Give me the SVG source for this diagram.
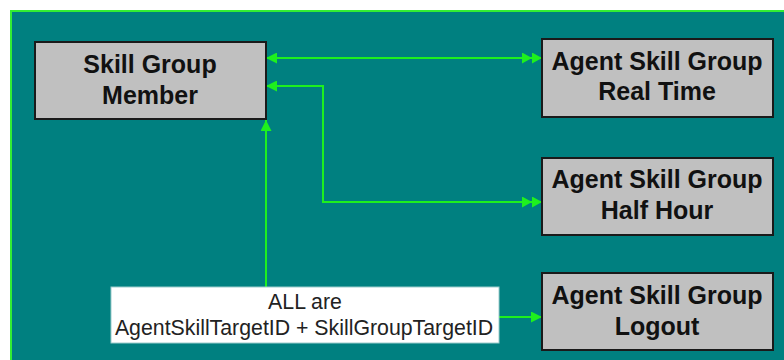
<svg xmlns="http://www.w3.org/2000/svg" width="784" height="360" viewBox="0 0 784 360">
<style>
.node rect{fill:#c0c0c0;stroke:#1a1a1a;stroke-width:2}
.node text{font-family:"Liberation Sans",Arial,sans-serif;font-weight:bold;font-size:25px;fill:#111;text-anchor:middle}
.conn{fill:none;stroke:#1ef01e;stroke-width:2}
.lbl text{font-family:"Liberation Sans",Arial,sans-serif;font-size:21.3px;fill:#222;text-anchor:middle}
</style>
<defs>
<marker id="a1" markerUnits="userSpaceOnUse" markerWidth="11" markerHeight="11" refX="11" refY="5.5" orient="auto-start-reverse">
<path d="M0,0 L11,5.5 L0,11 z" fill="#1ef01e"/>
</marker>
<marker id="a2" markerUnits="userSpaceOnUse" markerWidth="20" markerHeight="11" refX="20" refY="5.5" orient="auto">
<path d="M0,0 L10,5.5 L0,11 z M10,0 L20,5.5 L10,11 z" fill="#1ef01e"/>
</marker>
</defs>
<rect x="0" y="0" width="784" height="360" fill="#ffffff"/>
<rect x="11" y="11" width="820" height="400" fill="#008080" stroke="#33ee33" stroke-width="2"/>
<g id="connectors">
<path class="conn" d="M266,58 H542" marker-start="url(#a1)" marker-end="url(#a2)"/>
<path class="conn" d="M266,86 H323 V202 H542" marker-start="url(#a1)" marker-end="url(#a2)"/>
<path class="conn" d="M266,287 V120" marker-end="url(#a1)"/>
<path class="conn" d="M499,317 H542" marker-end="url(#a1)"/>
</g>
<g id="skill-group-member" class="node">
<rect x="35" y="42" width="231" height="77"/>
<text x="150" y="73">Skill Group</text>
<text x="150" y="104">Member</text>
</g>
<g id="agent-skill-group-real-time" class="node">
<rect x="542" y="39" width="231" height="78"/>
<text x="657" y="70">Agent Skill Group</text>
<text x="657" y="100">Real Time</text>
</g>
<g id="agent-skill-group-half-hour" class="node">
<rect x="542" y="158" width="231" height="77"/>
<text x="657" y="188">Agent Skill Group</text>
<text x="657" y="219">Half Hour</text>
</g>
<g id="agent-skill-group-logout" class="node">
<rect x="542" y="273" width="231" height="77"/>
<text x="657" y="304">Agent Skill Group</text>
<text x="657" y="335">Logout</text>
</g>
<g id="key-label" class="lbl">
<rect x="111" y="287" width="388" height="56" fill="#ffffff" stroke="#9ccccc" stroke-width="1"/>
<text x="305" y="309">ALL are</text>
<text x="304" y="335">AgentSkillTargetID + SkillGroupTargetID</text>
</g>
</svg>
